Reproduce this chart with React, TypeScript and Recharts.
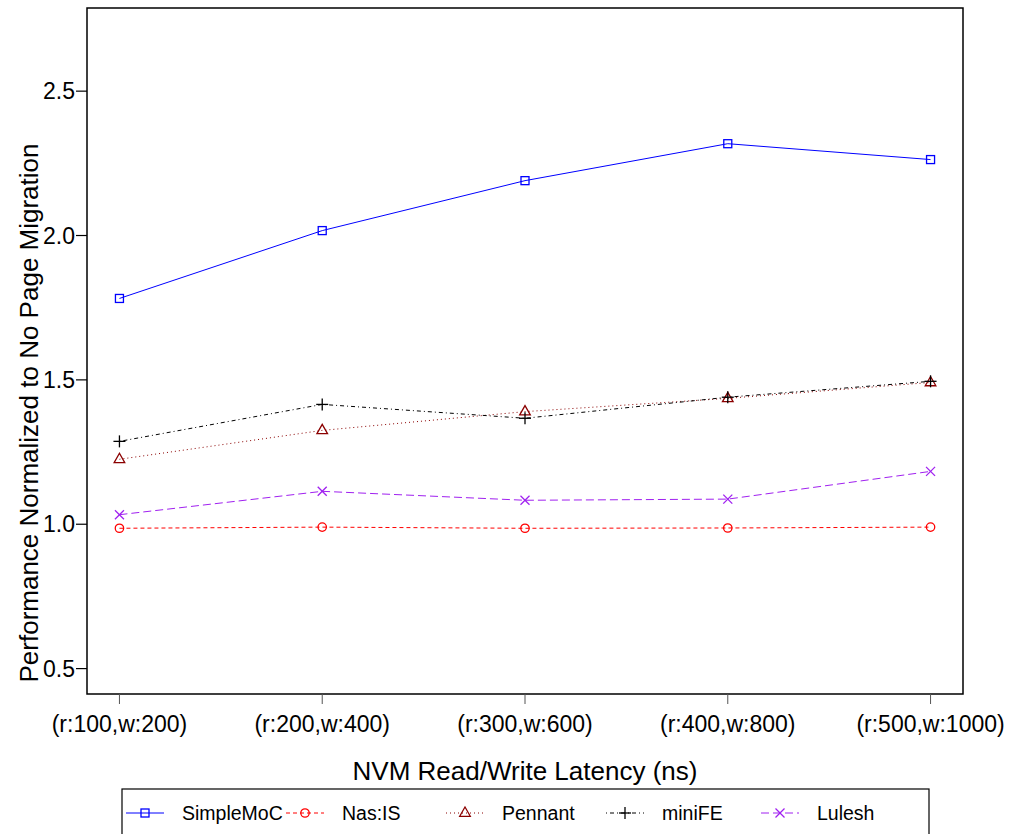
import React from "react";
import { LineChart, Line, XAxis, YAxis, ReferenceArea } from "recharts";

const categories = ["(r:100,w:200)", "(r:200,w:400)", "(r:300,w:600)", "(r:400,w:800)", "(r:500,w:1000)"];
const xPositions = [1, 2, 3, 4, 5];
const simpleMoC = [1.782, 2.017, 2.19, 2.318, 2.263];
const nasIS = [0.986, 0.99, 0.986, 0.987, 0.99];
const pennant = [1.225, 1.325, 1.39, 1.436, 1.491];
const miniFE = [1.287, 1.415, 1.367, 1.44, 1.495];
const lulesh = [1.033, 1.114, 1.083, 1.087, 1.183];
const yTicks = [0.5, 1.0, 1.5, 2.0, 2.5];

const data = xPositions.map((x, i) => ({
  x,
  SimpleMoC: simpleMoC[i],
  "Nas:IS": nasIS[i],
  Pennant: pennant[i],
  miniFE: miniFE[i],
  Lulesh: lulesh[i],
}));

type Shape = "square" | "circle" | "triangle" | "plus" | "cross";
const seriesDefs: { key: string; color: string; dash?: string; shape: Shape }[] = [
  { key: "SimpleMoC", color: "#0000FF", shape: "square" },
  { key: "Nas:IS", color: "#FF0000", dash: "4 3", shape: "circle" },
  { key: "Pennant", color: "#8B0000", dash: "1 3", shape: "triangle" },
  { key: "miniFE", color: "#000000", dash: "1 3 4 3", shape: "plus" },
  { key: "Lulesh", color: "#A020F0", dash: "8 4", shape: "cross" },
];

const FONT = "Liberation Sans, Arial, Helvetica, sans-serif";

function MarkerShape({ shape, cx, cy, color }: { shape: Shape; cx: number; cy: number; color: string }) {
  const sw = 1.3;
  if (shape === "square")
    return <rect x={cx - 4} y={cy - 4} width={8} height={8} fill="none" stroke={color} strokeWidth={sw} />;
  if (shape === "circle") return <circle cx={cx} cy={cy} r={4.2} fill="none" stroke={color} strokeWidth={sw} />;
  if (shape === "triangle")
    return (
      <polygon
        points={`${cx},${cy - 6} ${cx - 5.3},${cy + 3.3} ${cx + 5.3},${cy + 3.3}`}
        fill="none"
        stroke={color}
        strokeWidth={sw}
      />
    );
  if (shape === "plus")
    return (
      <g stroke={color} strokeWidth={sw}>
        <line x1={cx - 6} y1={cy} x2={cx + 6} y2={cy} />
        <line x1={cx} y1={cy - 6} x2={cx} y2={cy + 6} />
      </g>
    );
  return (
    <g stroke={color} strokeWidth={sw}>
      <line x1={cx - 4.5} y1={cy - 4.5} x2={cx + 4.5} y2={cy + 4.5} />
      <line x1={cx - 4.5} y1={cy + 4.5} x2={cx + 4.5} y2={cy - 4.5} />
    </g>
  );
}

const legendMarkerX = [145, 305, 465, 625, 780];

function LegendBox() {
  return (
    <svg width={1009} height={834} style={{ position: "absolute", left: 0, top: 0, pointerEvents: "none" }}>
      <rect x={122} y={789} width={807} height={80} fill="none" stroke="#000" strokeWidth={1.2} />
      {seriesDefs.map((s, i) => {
        const mx = legendMarkerX[i];
        const y = 813;
        return (
          <g key={s.key}>
            <line x1={mx - 19} y1={y} x2={mx + 19} y2={y} stroke={s.color} strokeWidth={1} strokeDasharray={s.dash} />
            <MarkerShape shape={s.shape} cx={mx} cy={y} color={s.color} />
            <text x={mx + 37} y={y + 7} fontFamily={FONT} fontSize={19.5} fill="#000">
              {s.key}
            </text>
          </g>
        );
      })}
    </svg>
  );
}

export default function App() {
  return (
    <div style={{ position: "absolute", left: 0, top: 0, width: 1009, height: 834, background: "#fff" }}>
      <LineChart width={1009} height={834} data={data} margin={{ top: 8, right: 46, bottom: 100, left: 0 }}>
        <XAxis
          dataKey="x"
          type="number"
          domain={[0.84, 5.16]}
          allowDataOverflow
          ticks={xPositions}
          tickFormatter={(v: number) => categories[v - 1]}
          height={40}
          axisLine={false}
          tickSize={10}
          tickMargin={12}
          tickLine={{ stroke: "#555", strokeWidth: 1 }}
          tick={{ fontFamily: FONT, fontSize: 23, fill: "#000" }}
          interval={0}
          label={(props: any) => {
            const vb = props.viewBox;
            return (
              <text
                x={vb.x + vb.width / 2}
                y={780}
                textAnchor="middle"
                fontFamily={FONT}
                fontSize={26}
                fill="#000"
              >
                NVM Read/Write Latency (ns)
              </text>
            );
          }}
        />
        <YAxis
          type="number"
          domain={[0.412, 2.788]}
          allowDataOverflow
          ticks={yTicks}
          tickFormatter={(v: number) => v.toFixed(1)}
          width={87}
          axisLine={false}
          tickSize={11}
          tickMargin={1}
          tickLine={{ stroke: "#000", strokeWidth: 1.2 }}
          tick={{ fontFamily: FONT, fontSize: 23, fill: "#000" }}
          label={(props: any) => {
            const cy = 413;
            const cx = 29;
            return (
              <text
                x={cx}
                y={cy}
                transform={`rotate(-90 ${cx} ${cy})`}
                textAnchor="middle"
                dominantBaseline="central"
                fontFamily={FONT}
                fontSize={26}
                fill="#000"
              >
                Performance Normalized to No Page Migration
              </text>
            );
          }}
        />
        <ReferenceArea
          x1={0.84}
          x2={5.16}
          y1={0.412}
          y2={2.788}
          fill="none"
          stroke="#000"
          strokeWidth={1.5}
          ifOverflow="visible"
        />
        {seriesDefs.map((s) => (
          <Line
            key={s.key}
            dataKey={s.key}
            stroke={s.color}
            strokeWidth={1}
            strokeDasharray={s.dash}
            isAnimationActive={false}
            dot={(p: any) => <MarkerShape key={`${s.key}-${p.index}`} shape={s.shape} cx={p.cx} cy={p.cy} color={s.color} />}
            activeDot={false}
          />
        ))}
      </LineChart>
      <LegendBox />
    </div>
  );
}
